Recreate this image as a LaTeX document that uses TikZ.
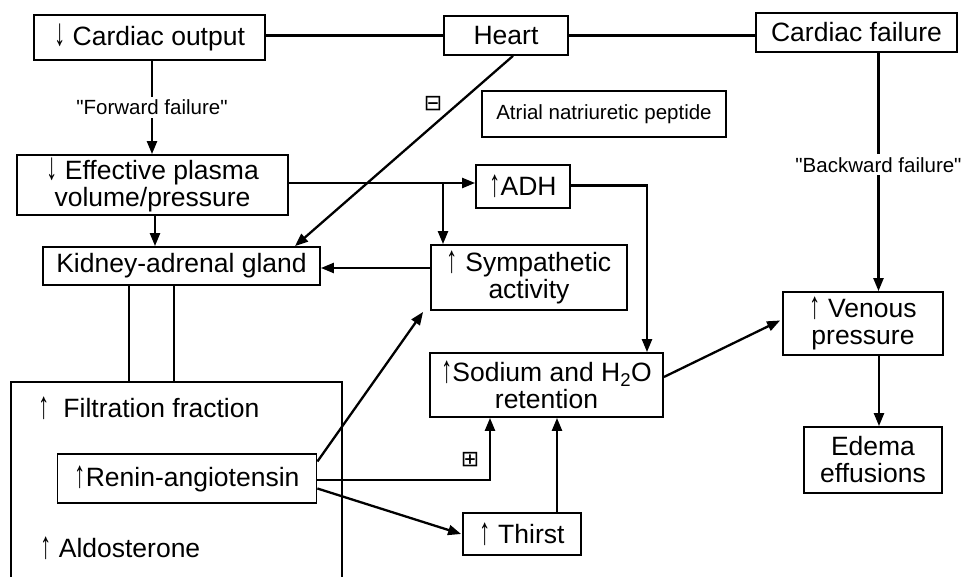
\documentclass[tikz,border=0pt]{standalone}
\usepackage{fontspec}
\setmainfont{Liberation Sans}
\newfontfamily\symfont{DejaVu Sans}
\usetikzlibrary{arrows.meta,calc}
\newcommand{\upa}{\raisebox{-1pt}{\scalebox{0.85}[1.45]{\bfseries ↑}}}
\newcommand{\dna}{\raisebox{0pt}{\scalebox{0.85}[1.45]{\bfseries ↓}}}
\begin{document}
\begin{tikzpicture}[x=1pt,y=-1pt,
  box/.style={draw,line width=1.8pt,inner sep=2pt,align=center,font=\fontsize{26.5}{27}\selectfont},
  txt/.style={inner sep=0pt,font=\fontsize{26.5}{27}\selectfont},
  lbl/.style={fill=white,inner sep=3pt,font=\fontsize{20.5}{22}\selectfont},
  conn/.style={line width=2.3pt},
  arr/.style={conn,-{Triangle[length=13pt,width=10pt]}},
  sgn/.style={inner sep=0pt,font=\symfont\fontsize{22}{22}\selectfont}]
\useasboundingbox (0,0) rectangle (970,577);
\fill[white] (0,0) rectangle (970,577);

% nodes
\node[box,minimum width=231pt,minimum height=45pt] (co) at (149.5,37.5) {\dna\ Cardiac output};
\node[box,minimum width=124pt,minimum height=39pt] (heart) at (506,35.5) {Heart};
\node[box,minimum width=201pt,minimum height=39pt] (cf) at (856.5,32.5) {Cardiac failure};
\node[box,minimum width=271pt,minimum height=60pt] (ep) at (152.5,185) {\dna\ Effective plasma\\volume/pressure};
\node[box,minimum width=277pt,minimum height=38pt] (kid) at (181.5,266) {Kidney-adrenal gland};
\node[box,minimum width=244pt,minimum height=46pt,font=\fontsize{20.5}{22}\selectfont] (anp) at (604,114) {Atrial natriuretic peptide};
\node[box,minimum width=94pt,minimum height=43pt] (adh) at (523,186.5) {\upa ADH};
\node[box,minimum width=196pt,minimum height=65pt] (sym) at (529,277.5) {\upa\ Sympathetic\\activity};
\node[box,minimum width=233pt,minimum height=64pt] (sod) at (546.5,385) {\upa Sodium and H\textsubscript{2}O\\retention};
\node[box,minimum width=160pt,minimum height=63pt] (ven) at (863,323.5) {\upa\ Venous\\pressure};
\node[box,minimum width=138pt,minimum height=66pt] (ede) at (873,460) {Edema\\effusions};
\node[box,minimum width=259pt,minimum height=49pt] (ren) at (187,478.5) {\upa Renin-angiotensin};
\node[box,minimum width=118pt,minimum height=42pt] (thirst) at (522,534) {\upa\ Thirst};
\node[txt,anchor=west] (ff) at (38,408) {\upa\hspace{14pt}Filtration fraction};
\node[txt,anchor=west] (ald) at (40,548) {\upa\ Aldosterone};

% open container box (bottom runs off the picture)
\coordinate (btl) at (11,382);
\coordinate (btr) at (342,382);
\draw[line width=1.8pt] (11,577) -- (btl) -- (btr) -- (342,577);

% connectors
\draw[conn] (co.east |- heart.west) -- (heart.west);
\draw[conn] (heart.east) -- (heart.east -| cf.west);
\draw[arr] ([xshift=2.5pt]co.south) -- node[lbl,pos=0.5] (fwd) {\textquotedbl Forward failure\textquotedbl} ([xshift=2.5pt]co.south |- ep.north);
\draw[arr] ([xshift=2.5pt]ep.south) -- ([xshift=2.5pt]ep.south |- kid.north);
\draw[arr] ([xshift=7pt]heart.south) -- ([xshift=113.5pt]kid.north);
\node[sgn] (minus) at (433,104) {⊟};
\draw[arr] ([yshift=2pt]ep.east) -- ([yshift=2pt]ep.east -| adh.west);
\draw[arr] ([xshift=-86pt,yshift=2pt]sym.north |- ep.east) -- ([xshift=-86pt]sym.north);
\draw[arr] ([yshift=1pt]adh.east) -| ([xshift=100.5pt]sod.north);
\draw[arr] ([yshift=-2pt]sym.west |- kid.east) -- ([yshift=-2pt]kid.east);
\draw[conn] ([xshift=-52.5pt]kid.south) -- ([xshift=-52.5pt]kid.south |- btl);
\draw[conn] ([xshift=-7.5pt]kid.south) -- ([xshift=-7.5pt]kid.south |- btl);
\draw[arr] ([yshift=17pt]ren.east) -- ([xshift=-7pt,yshift=-1pt]sym.south west);
\draw[arr] ([yshift=-1.5pt]ren.east) -| ([xshift=-56.5pt]sod.south);
\node[sgn] (plus) at (470,460) {⊞};
\draw[arr] ([yshift=-10pt]ren.east) -- ([xshift=-1pt]thirst.west);
\draw[arr] ([xshift=35pt]thirst.north) -- ([xshift=35pt]thirst.north |- sod.south);
\draw[arr] ([yshift=8pt]sod.east) -- ([xshift=-2pt,yshift=3pt]ven.west);
\draw[arr] ([xshift=22pt]cf.south) -- node[lbl,pos=0.47] (bwd) {\textquotedbl Backward failure\textquotedbl} ([xshift=22pt]cf.south |- ven.north);
\draw[arr] ([xshift=16pt]ven.south) -- ([xshift=16pt]ven.south |- ede.north);
\end{tikzpicture}
\end{document}
